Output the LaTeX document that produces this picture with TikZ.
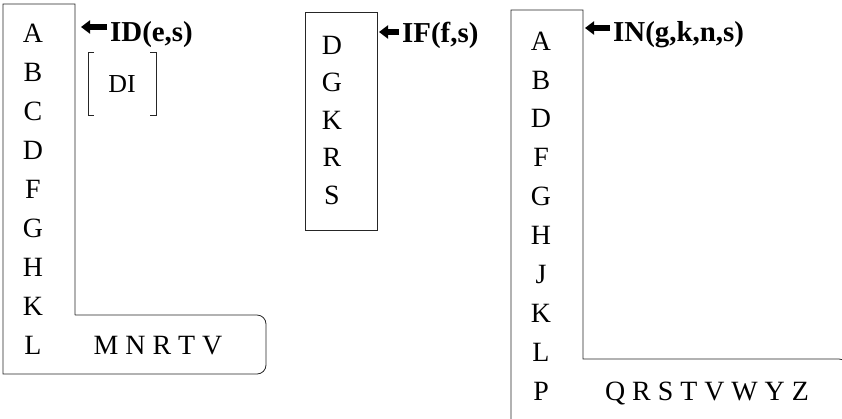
\documentclass[tikz,border=0pt]{standalone}
\usepackage{fontspec}
\setmainfont{Liberation Serif}
\usetikzlibrary{arrows.meta}

\begin{document}
\begin{tikzpicture}[
  x=1bp, y=-1bp,
  outline/.style={draw=black!85, line width=0.8bp},
  letter/.style={font=\fontsize{28}{30}\selectfont, inner sep=0pt, text depth=0pt},
  small/.style={font=\fontsize{26}{28}\selectfont, inner sep=0pt, text depth=0pt},
  setlbl/.style={font=\fontsize{29}{31}\selectfont\bfseries, anchor=west, inner sep=0pt},
  ptr/.style={-{Triangle[length=9bp,width=13bp]}, line width=5.5bp}
]
\useasboundingbox (0,0) rectangle (842,418);
\clip (0,0) rectangle (842,418);

% ---------------- ID(e,s) ----------------
\draw[outline] (75,315) -- (75,4) -- (3,4) -- (3,374) -- (180,374)
  [rounded corners=9bp] -- (266,374) -- (266,315) -- (180,315) [sharp corners] -- (75,315);
\foreach \l [count=\i] in {A,B,C,D,F,G,H,K,L}
  \node[letter] (id-\i) at (33,{33+39*(\i-1)}) {\l};
\node[letter] (idrow) at (158,345) {M N R T V};
\node[setlbl] (idlbl) at (110,35) {ID(e,s)};
\coordinate (idtip) at (81,27);
\draw[ptr] ([xshift=-3bp]idlbl.west |- idtip) -- (idtip);
\node[small] (di) at (122,84) {DI};
\draw[outline] (94,52) -- (88,52) -- (88,115) -- (94,115);
\draw[outline] (150,52) -- (156,52) -- (156,115) -- (150,115);

% ---------------- IF(f,s) ----------------
\draw[outline] (305,12) rectangle (377,230);
\foreach \l [count=\i] in {D,G,K,R,S}
  \node[letter] (if-\i) at (332,{45+37.5*(\i-1)}) {\l};
\node[setlbl] (iflbl) at (402,35) {IF(f,s)};
\coordinate (iftip) at (379,32);
\draw[ptr] ([xshift=-3bp]iflbl.west |- iftip) -- (iftip);

% ---------------- IN(g,k,n,s) ----------------
\draw[outline] (511,430) -- (511,10) -- (583,10) -- (583,359) -- (800,359)
  [rounded corners=9bp] -- (848,359) -- (848,430);
\foreach \l [count=\i] in {A,B,D,F,G,H,J,K,L,P}
  \node[letter] (in-\i) at (541,{41+38.9*(\i-1)}) {\l};
\node[letter] (inrow) at (707,391) {Q R S T V W Y Z};
\node[setlbl] (inlbl) at (613,35) {IN(g,k,n,s)};
\coordinate (intip) at (585,28);
\draw[ptr] ([xshift=-3bp]inlbl.west |- intip) -- (intip);
\end{tikzpicture}
\end{document}
